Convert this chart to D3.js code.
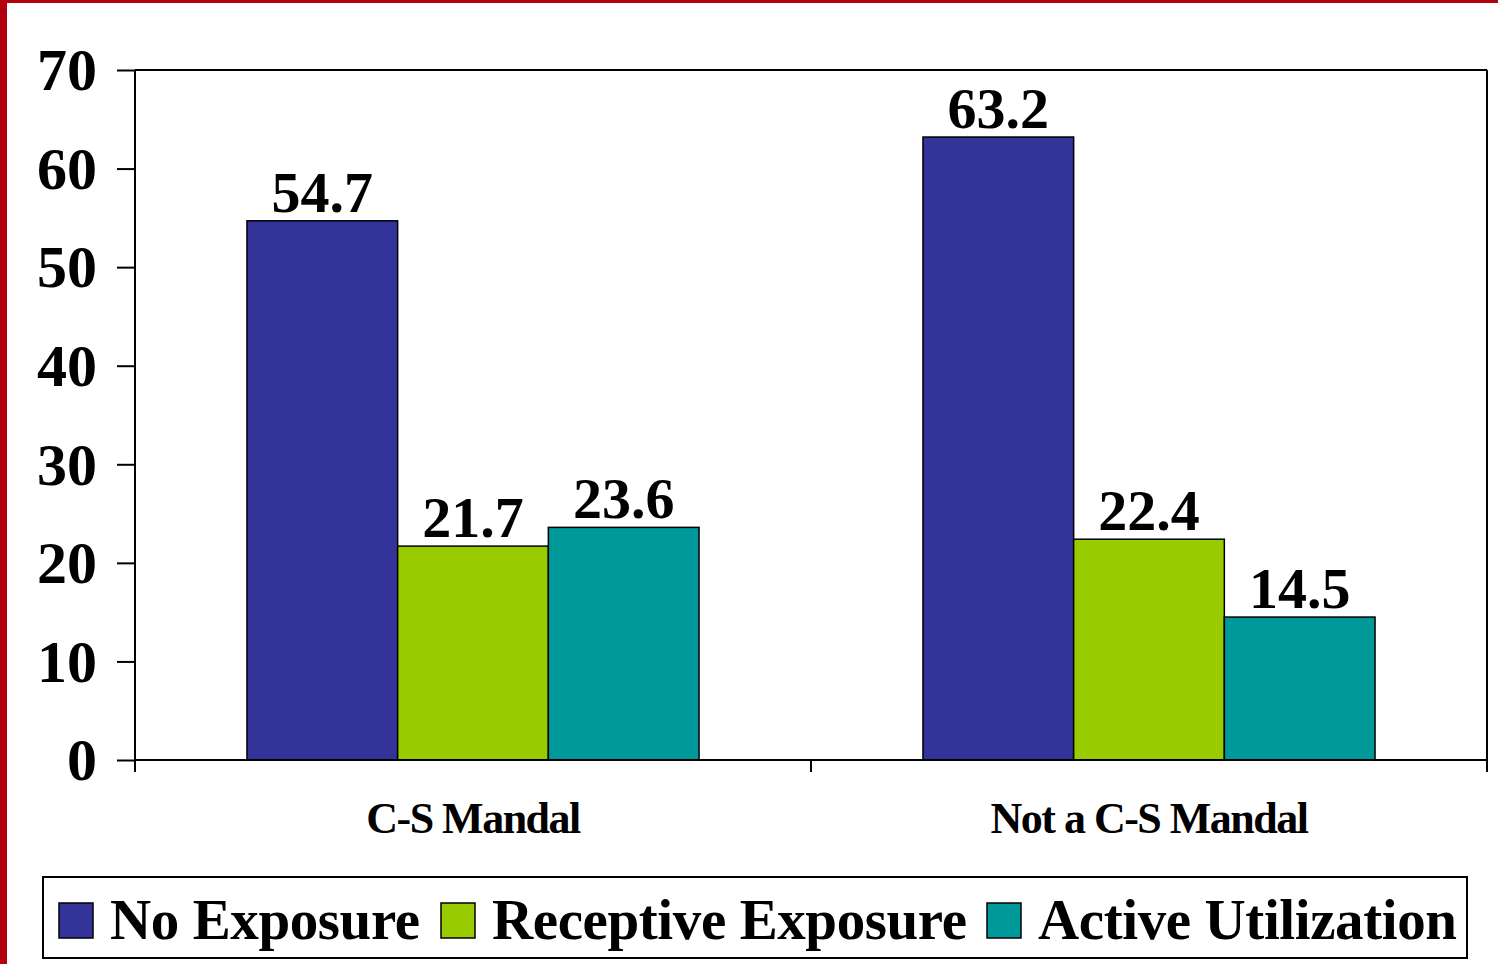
<!DOCTYPE html>
<html>
<head>
<meta charset="utf-8">
<script src="https://cdn.jsdelivr.net/npm/d3@7"></script>
<style>
  body { margin: 0; background: #fff; }
  svg { display: block; }
</style>
</head>
<body>
<div id="chart"></div>
<script>
// Chart data
const categories = ["C-S Mandal", "Not a C-S Mandal"];
const seriesNames = ["No Exposure", "Receptive Exposure", "Active Utilization"];
const noExposure = [54.7, 63.2];
const receptiveExposure = [21.7, 22.4];
const activeUtilization = [23.6, 14.5];
const yTicks = [0, 10, 20, 30, 40, 50, 60, 70];
const colors = ["#333399", "#99cc00", "#009999"];

const seriesValues = [noExposure, receptiveExposure, activeUtilization];
const FONT = "Liberation Serif";

const W = 1498, H = 964;
const margin = { top: 70, right: 11, bottom: 204, left: 135 };
const width = W - margin.left - margin.right;
const height = H - margin.top - margin.bottom;

const svg = d3.select("#chart")
    .append("svg")
    .attr("width", W)
    .attr("height", H);

// dark red frame on the left and top
svg.append("rect").attr("x", 0).attr("y", 0).attr("width", 7).attr("height", H).attr("fill", "#b3000f");
svg.append("rect").attr("x", 0).attr("y", 0).attr("width", W).attr("height", 3).attr("fill", "#b3000f");

const g = svg.append("g")
    .attr("transform", `translate(${margin.left},${margin.top})`);

const x0 = d3.scaleBand()
    .domain(categories)
    .range([0, width])
    .padding(0);

const x1 = d3.scaleBand()
    .domain(seriesNames)
    .range([0, x0.bandwidth()])
    .paddingInner(0)
    .paddingOuter(0.743);

const y = d3.scaleLinear()
    .domain([0, 70])
    .range([height, 0]);

// plot frame (top and right)
g.append("line").attr("x1", 0).attr("x2", width).attr("y1", 0).attr("y2", 0)
    .attr("stroke", "#000").attr("stroke-width", 2);
g.append("line").attr("x1", width).attr("x2", width).attr("y1", 0).attr("y2", height)
    .attr("stroke", "#000").attr("stroke-width", 2);

// bars + value labels
categories.forEach((cat, ci) => {
    seriesNames.forEach((s, si) => {
        const v = seriesValues[si][ci];
        g.append("rect")
            .attr("x", x0(cat) + x1(s))
            .attr("y", y(v))
            .attr("width", x1.bandwidth())
            .attr("height", height - y(v))
            .attr("fill", colors[si])
            .attr("stroke", "#000")
            .attr("stroke-width", 1.5);

        g.append("text")
            .attr("x", x0(cat) + x1(s) + x1.bandwidth() / 2)
            .attr("y", y(v) - 9)
            .attr("text-anchor", "middle")
            .attr("font-family", FONT)
            .attr("font-weight", "bold")
            .attr("font-size", 58)
            .attr("letter-spacing", 0)
            .text(v.toFixed(1));
    });
});

// y axis
const yAxis = g.append("g")
    .call(d3.axisLeft(y).tickValues(yTicks).tickSize(18).tickPadding(20).tickFormat(d3.format("d")));
yAxis.select(".domain").attr("stroke", "#000").attr("stroke-width", 2).attr("d", `M0,0V${height}`);
yAxis.selectAll(".tick line").attr("stroke", "#000").attr("stroke-width", 2);
yAxis.selectAll(".tick text")
    .attr("font-family", FONT)
    .attr("font-weight", "bold")
    .attr("font-size", 60)
    .attr("letter-spacing", 0)
    .attr("dy", "0.33em")
    .attr("fill", "#000");

// x axis with ticks at band boundaries
const xAxis = g.append("g")
    .attr("transform", `translate(0,${height})`);
xAxis.append("line").attr("x1", 0).attr("x2", width).attr("y1", 0).attr("y2", 0)
    .attr("stroke", "#000").attr("stroke-width", 2);
const boundaries = categories.map(c => x0(c)).concat([width]);
xAxis.selectAll(".xtick")
    .data(boundaries)
    .enter().append("line")
    .attr("x1", d => d).attr("x2", d => d)
    .attr("y1", 0).attr("y2", 12)
    .attr("stroke", "#000").attr("stroke-width", 2);
xAxis.selectAll(".xlabel")
    .data(categories)
    .enter().append("text")
    .attr("x", d => x0(d) + x0.bandwidth() / 2)
    .attr("y", 73)
    .attr("text-anchor", "middle")
    .attr("font-family", FONT)
    .attr("font-weight", "bold")
    .attr("font-size", 44)
    .attr("letter-spacing", -1.5)
    .text(d => d);

// legend
const legend = svg.append("g");
legend.append("rect")
    .attr("x", 43).attr("y", 877)
    .attr("width", 1424).attr("height", 81)
    .attr("fill", "#fff")
    .attr("stroke", "#000").attr("stroke-width", 2);

const legendX = [59, 441, 987];
seriesNames.forEach((s, i) => {
    legend.append("rect")
        .attr("x", legendX[i]).attr("y", 903)
        .attr("width", 34).attr("height", 35)
        .attr("fill", colors[i])
        .attr("stroke", "#000").attr("stroke-width", 1.5);
    legend.append("text")
        .attr("x", legendX[i] + 51).attr("y", 939)
        .attr("font-family", FONT)
        .attr("font-weight", "bold")
        .attr("font-size", 57)
        .attr("letter-spacing", -0.4)
        .text(s);
});
</script>
</body>
</html>
